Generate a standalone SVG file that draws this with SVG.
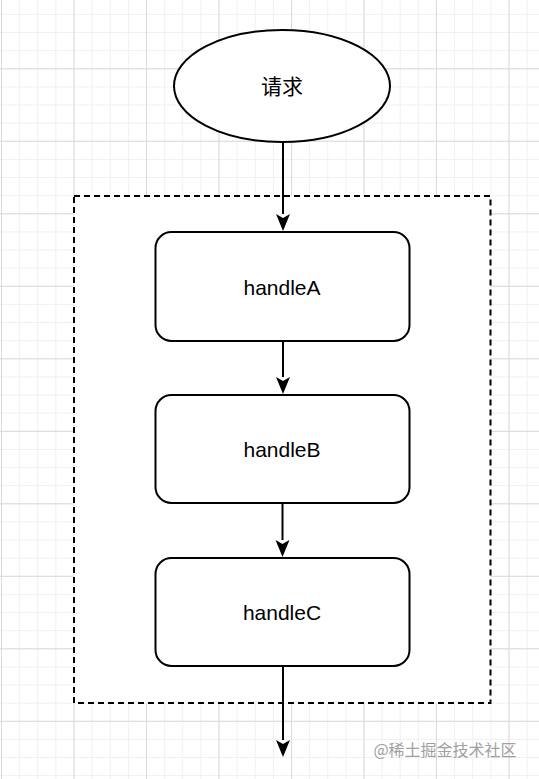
<svg xmlns="http://www.w3.org/2000/svg" width="539" height="779" viewBox="0 0 539 779">
<defs>
<pattern id="minor" x="1" y="-4.2" width="18.125" height="18.125" patternUnits="userSpaceOnUse">
<path d="M0 0.5H18.125M0.5 0V18.125" fill="none" stroke="#f0f0f0" stroke-width="1"/>
</pattern>
<pattern id="major" x="1" y="-4.2" width="72.5" height="72.5" patternUnits="userSpaceOnUse">
<path d="M0 0.5H72.5M0.5 0V72.5" fill="none" stroke="#dadada" stroke-width="1"/>
</pattern>
<marker id="arr" viewBox="0 0 14 17" refX="7" refY="16" markerWidth="14" markerHeight="17" markerUnits="userSpaceOnUse" orient="auto-start-reverse">
<path d="M0 0 L7 4 L14 0 L7 17 Z" fill="#000" transform="rotate(0)"/>
</marker>
<style>
.node{fill:#fff;stroke:#000;stroke-width:2}
.lbl{font-family:"Liberation Sans",Arial,"Noto Sans CJK SC",sans-serif;font-size:21px;fill:#000;text-anchor:middle}
.edge{stroke:#000;stroke-width:2;fill:none}
</style>
</defs>
<rect width="539" height="779" fill="#fff"/>
<rect width="539" height="779" fill="url(#minor)"/>
<rect width="539" height="779" fill="url(#major)"/>
<g id="group-box">
<rect x="74" y="196" width="416.5" height="507" fill="#fff" stroke="#000" stroke-width="2" stroke-dasharray="6 4"/>
</g>
<g id="connectors">
<path class="edge" d="M283 142V214"/>
<path d="M276 214 L283 218 L290 214 L283 231 Z" fill="#000"/>
<path class="edge" d="M283 341V377"/>
<path d="M276 377 L283 381 L290 377 L283 394 Z" fill="#000"/>
<path class="edge" d="M282.5 503V540"/>
<path d="M275.5 540 L282.5 544 L289.5 540 L282.5 557 Z" fill="#000"/>
<path class="edge" d="M283 666V740"/>
<path d="M276 740 L283 744 L290 740 L283 757 Z" fill="#000"/>
</g>
<g id="node-request">
<ellipse class="node" cx="282" cy="86" rx="108" ry="56"/>
<text class="lbl" x="282" y="94">请求</text>
</g>
<g id="node-handleA">
<rect class="node" x="155.5" y="232" width="254" height="109" rx="16"/>
<text class="lbl" x="282" y="295">handleA</text>
</g>
<g id="node-handleB">
<rect class="node" x="155.5" y="395" width="254" height="108" rx="16"/>
<text class="lbl" x="282" y="457">handleB</text>
</g>
<g id="node-handleC">
<rect class="node" x="155.5" y="558" width="254" height="108" rx="16"/>
<text class="lbl" x="282" y="620">handleC</text>
</g>
<text x="445" y="756" font-family="'Noto Sans CJK SC',sans-serif" font-size="16" fill="#a0a0a0" text-anchor="middle">@稀土掘金技术社区</text>
</svg>
